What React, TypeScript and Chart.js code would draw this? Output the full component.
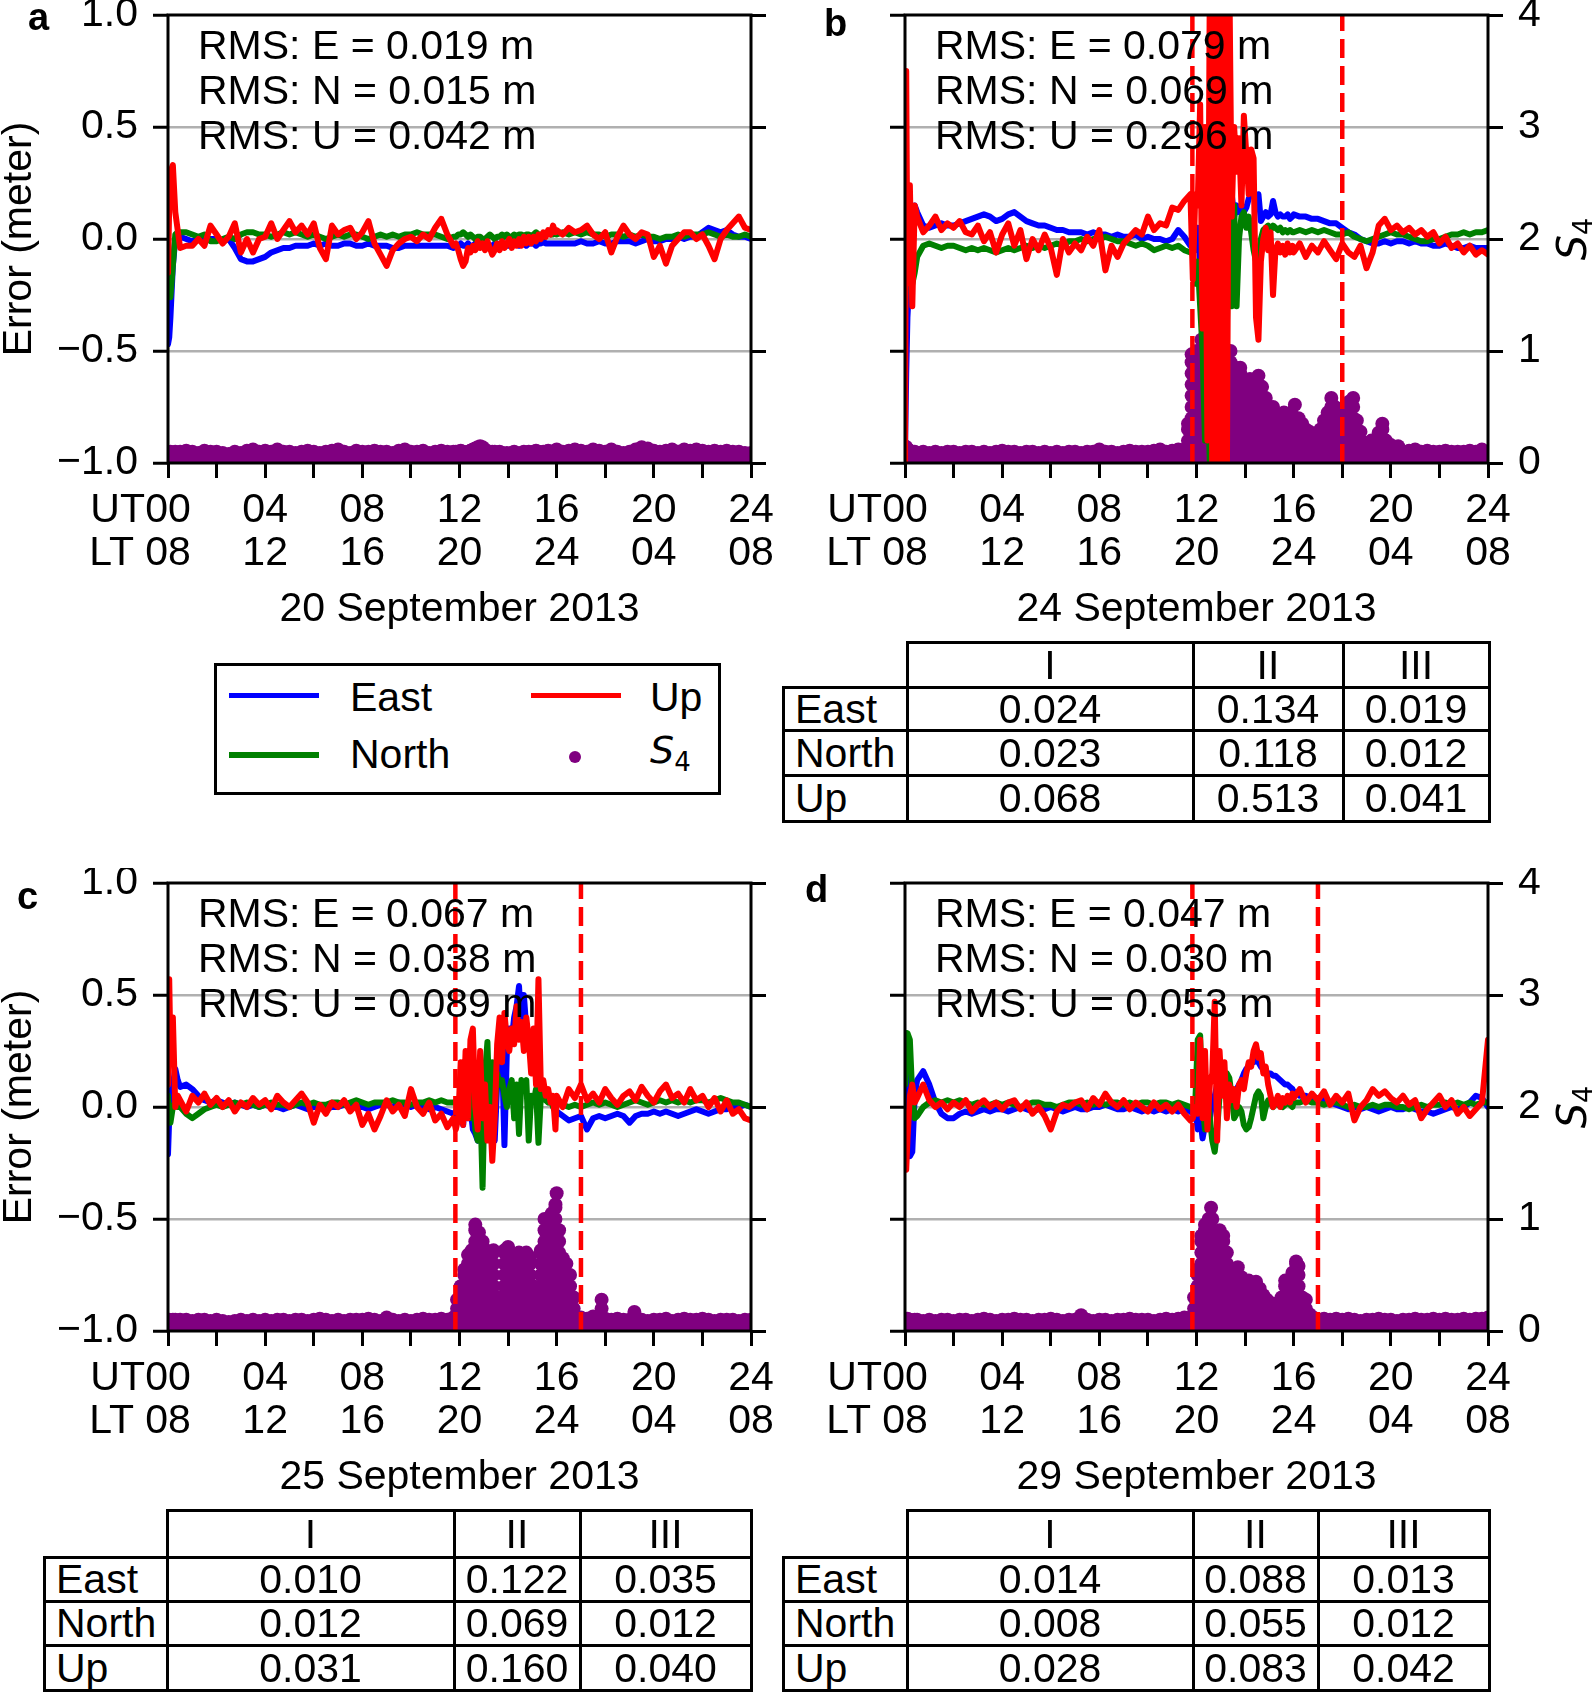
import React, { useEffect, useRef } from "react";
import { Chart, registerables } from "chart.js";

Chart.register(...registerables);

// ---------------- time grid (hours UT) ----------------
// 0, .05, .1, .2, .3, .4 | 0.5 .. 11.75 step .25 | 11.85 .. 15.95 step .1 | 16 .. 24 step .25
const gridStart = [0, 0.05, 0.1, 0.2, 0.3, 0.4];
const gridSegments: [number, number, number][] = [
  [0.5, 46, 0.25],
  [11.85, 42, 0.1],
  [16, 33, 0.25],
];
function buildTimes(): number[] {
  const t = [...gridStart];
  gridSegments.forEach(([start, count, step]) => {
    for (let i = 0; i < count; i++) t.push(Math.round((start + i * step) * 1000) / 1000);
  });
  return t;
}
const TIMES = buildTimes();

// ---------------- axis labels ----------------
const utTickValues = [0, 4, 8, 12, 16, 20, 24];
const utLabels = ["00", "04", "08", "12", "16", "20", "24"];
const ltLabels = ["08", "12", "16", "20", "24", "04", "08"];
const rmsNames = ["E", "N", "U"];
const tableColumns = ["I", "II", "III"];
const tableRows = ["East", "North", "Up"];
const legendLabels = ["East", "North", "Up"];

// ---------------- overall RMS (m) ----------------
const rmsA = [0.019, 0.015, 0.042];
const rmsB = [0.079, 0.069, 0.296];
const rmsC = [0.067, 0.038, 0.089];
const rmsD = [0.047, 0.03, 0.053];

// ---------------- period RMS tables ----------------
const tableB = [
  [0.024, 0.134, 0.019],
  [0.023, 0.118, 0.012],
  [0.068, 0.513, 0.041],
];
const tableC = [
  [0.01, 0.122, 0.035],
  [0.012, 0.069, 0.012],
  [0.031, 0.16, 0.04],
];
const tableD = [
  [0.014, 0.088, 0.013],
  [0.008, 0.055, 0.012],
  [0.028, 0.083, 0.042],
];

// ---------------- period boundaries (h UT) ----------------
const dashesB = [11.83, 18.0];
const dashesC = [11.83, 17.0];
const dashesD = [11.83, 17.0];

// ---------------- panel a: 20 Sep 2013 ----------------
const eastA = [
  -0.47, -0.44, -0.35, -0.12, 0.0, 0.02,
  0.01, 0.0, -0.01, 0.0, -0.01, 0.0, 0.0, -0.01, 0.0, -0.04,
  -0.09, -0.1, -0.1, -0.09, -0.08, -0.06, -0.05, -0.04, -0.04, -0.03, -0.03, -0.03,
  -0.02, -0.03, -0.02, -0.03, -0.03, -0.02, -0.02, -0.03, -0.03, -0.02, -0.03, -0.03,
  -0.03, -0.04, -0.04, -0.03, -0.03, -0.03, -0.03, -0.03, -0.03, -0.03, -0.03, -0.04,
  -0.03, -0.03, -0.02, -0.03, -0.03, -0.02, -0.03, -0.03, -0.02, -0.02,
  -0.03, -0.03, -0.02, -0.02, -0.03, -0.03, -0.02, -0.02, -0.03, -0.02,
  -0.02, -0.03, -0.03, -0.02, -0.02, -0.02, -0.03, -0.02, -0.02, -0.03,
  -0.02, -0.02, -0.02, -0.03, -0.02, -0.02, -0.01, -0.02, -0.02, -0.02,
  -0.02, -0.02,
  -0.02, -0.02, -0.02, -0.02, -0.01, -0.02, -0.02, -0.01, -0.02, -0.02, -0.01, -0.01,
  -0.01, -0.02, -0.01, 0.0, -0.01, -0.01, 0.0, 0.0, 0.01, 0.0, 0.01, 0.01,
  0.03, 0.05, 0.04, 0.03, 0.04, 0.02, 0.01, 0.01, 0.0,
];
const northA = [
  -0.15, -0.22, -0.26, -0.12, 0.02, 0.03,
  0.03, 0.03, 0.02, 0.01, 0.02, -0.01, -0.01, 0.0, 0.01, 0.0,
  0.02, 0.03, 0.03, 0.02, 0.02, 0.01, 0.02, 0.03, 0.02, 0.03, 0.02, 0.01,
  0.02, 0.01, 0.0, 0.01, 0.02, 0.01, 0.02, 0.02, 0.01, 0.0, 0.01, 0.02,
  0.01, 0.02, 0.01, 0.02, 0.02, 0.03, 0.02, 0.02, 0.02, 0.01, 0.0, 0.01,
  0.01, 0.02, 0.02, 0.03, 0.02, 0.01, 0.02, 0.01, 0.0, 0.01,
  0.01, 0.0, 0.0, 0.01, 0.02, 0.01, 0.0, 0.01, 0.01, 0.02,
  0.01, 0.02, 0.01, 0.01, 0.02, 0.01, 0.02, 0.02, 0.01, 0.02,
  0.02, 0.01, 0.02, 0.03, 0.02, 0.02, 0.01, 0.02, 0.03, 0.02,
  0.02, 0.03,
  0.02, 0.03, 0.02, 0.03, 0.02, 0.03, 0.02, 0.02, 0.01, 0.02, 0.02, 0.01,
  0.02, 0.01, 0.02, 0.01, 0.01, 0.0, 0.01, 0.01, 0.02, 0.01, 0.02, 0.02,
  0.02, 0.03, 0.02, 0.01, 0.02, 0.01, 0.01, 0.02, 0.01,
];
const upA = [
  -0.15, 0.15, 0.3, 0.33, 0.12, 0.04,
  -0.04, -0.03, -0.03, 0.0, -0.03, 0.06, 0.02, -0.02, 0.01, 0.07,
  -0.06, 0.0, -0.06, 0.0, 0.01, 0.07, 0.0, 0.04, 0.08, 0.03, 0.06, 0.02,
  0.07, -0.04, -0.09, 0.06, 0.02, 0.04, 0.05, 0.0, 0.03, 0.08, -0.02, -0.07,
  -0.12, -0.05, -0.02, 0.0, 0.01, -0.01, 0.02, 0.0, 0.05, 0.09, 0.02, -0.03,
  -0.02, -0.05, -0.09, -0.12, -0.1, -0.04, -0.06, -0.03, -0.05, -0.01,
  -0.04, -0.02, -0.05, -0.01, -0.04, -0.07, -0.05, -0.02, -0.05, -0.01,
  -0.04, -0.02, 0.0, -0.04, -0.01, -0.03, 0.0, -0.03, 0.01, -0.02,
  0.01, -0.02, 0.01, -0.01, 0.02, 0.0, 0.03, 0.01, 0.04, 0.02,
  0.06, 0.03,
  0.04, 0.02, 0.05, 0.03, 0.04, 0.06, 0.02, 0.0, 0.03, -0.06, 0.01, 0.06,
  0.02, 0.0, 0.03, 0.02, -0.08, -0.03, -0.11, -0.03, 0.0, 0.03, 0.03, 0.0,
  0.02, -0.03, -0.09, 0.0, 0.04, 0.07, 0.1, 0.05, 0.04,
];
const s4TopA = [
  0.1, 0.09, 0.1, 0.09, 0.1, 0.09,
  0.1, 0.11, 0.1, 0.09, 0.11, 0.1, 0.1, 0.09, 0.08, 0.1,
  0.09, 0.11, 0.12, 0.1, 0.11, 0.1, 0.12, 0.1, 0.1, 0.09, 0.1, 0.11,
  0.1, 0.09, 0.1, 0.11, 0.12, 0.1, 0.09, 0.11, 0.1, 0.1, 0.11, 0.1,
  0.1, 0.09, 0.11, 0.12, 0.1, 0.1, 0.11, 0.09, 0.1, 0.11, 0.1, 0.1,
  0.1, 0.1, 0.11, 0.1, 0.09, 0.1, 0.11, 0.12, 0.13, 0.14,
  0.15, 0.14, 0.12, 0.1, 0.09, 0.1, 0.1, 0.09, 0.1, 0.09,
  0.08, 0.09, 0.08, 0.09, 0.1, 0.09, 0.08, 0.09, 0.1, 0.09,
  0.1, 0.09, 0.1, 0.11, 0.1, 0.09, 0.1, 0.1, 0.11, 0.1,
  0.1, 0.11,
  0.12, 0.1, 0.11, 0.12, 0.11, 0.1, 0.12, 0.11, 0.1, 0.12, 0.1, 0.09,
  0.1, 0.12, 0.14, 0.13, 0.11, 0.1, 0.11, 0.12, 0.1, 0.12, 0.11, 0.12,
  0.11, 0.1, 0.11, 0.1, 0.11, 0.1, 0.1, 0.09, 0.09,
];

// ---------------- panel b: 24 Sep 2013 ----------------
const eastB = [
  -0.95, -0.6, -0.35, -0.15, 0.05, 0.15,
  0.12, 0.06, 0.05, 0.06, 0.07, 0.06, 0.06, 0.07, 0.08, 0.09,
  0.1, 0.11, 0.1, 0.08, 0.09, 0.11, 0.12, 0.1, 0.08, 0.07, 0.06, 0.06,
  0.05, 0.04, 0.04, 0.03, 0.03, 0.03, 0.02, 0.03, 0.02, 0.02, 0.01, 0.02,
  0.01, 0.01, 0.02, 0.0, 0.01, 0.0, 0.0, -0.01, 0.0, 0.04, 0.01, -0.03,
  0.0, -0.05, 0.05, -0.1, 0.1, -0.2, 0.0, -0.3, 0.1, -0.2,
  0.1, -0.1, 0.15, 0.0, 0.2, 0.05, 0.2, 0.1, 0.15, 0.12,
  0.15, 0.12, 0.14, 0.18, 0.2, 0.22, 0.16, 0.2, 0.08, 0.1,
  0.12, 0.1, 0.11, 0.17, 0.12, 0.1, 0.11, 0.1, 0.1, 0.11,
  0.09, 0.1,
  0.11, 0.1, 0.1, 0.09, 0.09, 0.08, 0.07, 0.07, 0.05, 0.03, 0.02, 0.0,
  -0.01, -0.02, -0.02, -0.01, -0.02, -0.01, -0.01, -0.02, -0.01, -0.02, -0.02, -0.03,
  -0.03, -0.02, -0.03, -0.04, -0.04, -0.03, -0.04, -0.04, -0.04,
];
const northB = [
  -0.3, -0.1, 0.05, -0.05, -0.2, -0.15,
  -0.08, -0.03, -0.02, -0.03, -0.04, -0.03, -0.03, -0.04, -0.05, -0.04,
  -0.05, -0.04, -0.05, -0.06, -0.05, -0.04, -0.05, -0.04, -0.03, -0.04, -0.03, -0.04,
  -0.03, -0.02, -0.03, -0.01, -0.01, 0.0, -0.01, 0.0, 0.0, 0.01, 0.0, -0.01,
  -0.01, -0.02, -0.03, -0.02, -0.03, -0.05, -0.04, -0.03, -0.04, -0.03, -0.05, -0.06,
  -0.05, -0.2, -0.1, -0.3, -0.5, -0.9, -0.6, -1.0, -0.3, -1.05,
  -0.5, -1.05, -0.2, 0.3, -0.4, 0.2, -0.3, 0.15, -0.3, 0.0,
  0.1, 0.12, 0.05, 0.1, 0.03, -0.05, -0.1, -0.08, 0.0, 0.04,
  0.05, 0.06, 0.04, 0.06, 0.05, 0.04, 0.05, 0.03, 0.04, 0.03,
  0.04, 0.03,
  0.03, 0.04, 0.03, 0.04, 0.03, 0.04, 0.03, 0.02, 0.02, 0.03, 0.01, 0.0,
  -0.01, 0.0, 0.01, 0.02, 0.03, 0.02, 0.02, 0.01, 0.0, -0.01, -0.01, 0.0,
  0.0, 0.01, 0.02, 0.02, 0.03, 0.02, 0.03, 0.03, 0.04,
];
const upB = [
  -1.05, 0.75, -0.2, 0.24, -0.3, 0.15,
  0.1, 0.03, 0.06, 0.1, 0.04, 0.07, 0.05, 0.08, 0.03, 0.02,
  0.06, -0.01, 0.03, -0.06, 0.02, 0.07, -0.03, 0.04, -0.09, 0.0, -0.05, 0.02,
  -0.04, -0.16, 0.0, -0.06, -0.02, -0.05, 0.01, -0.03, 0.04, -0.14, -0.03, -0.08,
  -0.02, 0.01, 0.04, 0.02, 0.1, 0.04, 0.07, 0.06, 0.14, 0.13, 0.17, 0.2,
  -0.18, 0.2, 0.15, 0.6, -0.4, 0.5, -0.9, 1.2, -1.1, 1.2,
  -1.1, 1.2, -1.1, 1.2, -1.1, 1.2, 0.1, 0.5, 0.3, 0.45,
  0.15, 0.55, 0.38, 0.2, 0.4, 0.36, -0.35, -0.45, -0.1, 0.0,
  0.05, -0.05, 0.03, -0.25, -0.05, -0.02, -0.06, -0.03, -0.07, -0.02,
  -0.06, -0.03,
  -0.06, -0.02, -0.08, -0.03, -0.06, -0.01, -0.05, -0.09, -0.02, -0.06, -0.08, -0.03,
  -0.13, -0.06, 0.06, 0.09, 0.04, 0.06, 0.03, 0.05, 0.02, 0.04, 0.01, 0.03,
  -0.02, 0.01, -0.04, -0.02, -0.06, -0.03, -0.07, -0.05, -0.07,
];
const s4TopB = [
  0.15, 0.14, 0.12, 0.11, 0.1, 0.1,
  0.09, 0.1, 0.09, 0.1, 0.09, 0.1, 0.1, 0.09, 0.1, 0.1,
  0.09, 0.1, 0.09, 0.1, 0.11, 0.1, 0.1, 0.09, 0.1, 0.1, 0.09, 0.1,
  0.09, 0.1, 0.09, 0.1, 0.1, 0.09, 0.1, 0.1, 0.12, 0.1, 0.1, 0.09,
  0.1, 0.11, 0.1, 0.1, 0.1, 0.11, 0.12, 0.1, 0.11, 0.12, 0.12, 0.13,
  0.13, 0.12, 0.14, 0.13, 0.12, 0.14, 0.13, 0.12, 0.14, 0.13,
  0.12, 0.14, 0.13, 0.12, 0.14, 0.13, 0.12, 0.14, 0.13, 0.12,
  0.14, 0.13, 0.12, 0.14, 0.13, 0.12, 0.14, 0.13, 0.12, 0.14,
  0.13, 0.12, 0.14, 0.13, 0.12, 0.14, 0.13, 0.12, 0.14, 0.13,
  0.12, 0.14,
  0.13, 0.14, 0.12, 0.13, 0.12, 0.14, 0.13, 0.12, 0.14, 0.13, 0.14, 0.13,
  0.14, 0.12, 0.14, 0.13, 0.12, 0.11, 0.1, 0.11, 0.12, 0.1, 0.11, 0.1,
  0.1, 0.11, 0.1, 0.1, 0.1, 0.11, 0.1, 0.12, 0.1,
];
const s4BurstB: [number, number[]][] = [
  [11.65, [0.2, 0.3, 0.35]],
  [11.8, [0.2, 0.3, 0.4, 0.5, 0.6, 0.7, 0.8, 0.9, 0.97]],
  [12.0, [0.2, 0.3, 0.4, 0.5, 0.6, 0.7, 0.8, 0.9, 1.0]],
  [12.2, [0.2, 0.3, 0.4, 0.5, 0.6, 0.7, 0.8, 0.9, 1.0, 1.1]],
  [12.4, [0.2, 0.3, 0.4, 0.5, 0.6, 0.7, 0.8, 0.9, 1.0, 1.08]],
  [12.6, [0.2, 0.3, 0.4, 0.5, 0.6, 0.7, 0.8, 0.9, 1.0]],
  [12.8, [0.2, 0.3, 0.4, 0.5, 0.6, 0.7, 0.8, 0.9, 1.0]],
  [13.0, [0.2, 0.3, 0.4, 0.5, 0.6, 0.7, 0.8, 0.9, 1.0, 1.1]],
  [13.2, [0.2, 0.3, 0.4, 0.5, 0.6, 0.7, 0.8, 0.9, 1.0]],
  [13.4, [0.2, 0.3, 0.4, 0.5, 0.6, 0.7, 0.8, 0.9, 1.0]],
  [13.6, [0.2, 0.3, 0.4, 0.5, 0.6, 0.7, 0.8, 0.85]],
  [13.8, [0.2, 0.3, 0.4, 0.5, 0.6, 0.7, 0.8, 0.85]],
  [14.0, [0.2, 0.3, 0.4, 0.5, 0.6, 0.7]],
  [14.2, [0.2, 0.3, 0.4, 0.5, 0.6, 0.7, 0.75]],
  [14.4, [0.2, 0.3, 0.4, 0.5, 0.6, 0.65]],
  [14.55, [0.2, 0.3, 0.4, 0.5, 0.6, 0.7, 0.78]],
  [14.7, [0.2, 0.3, 0.4, 0.5, 0.6, 0.68]],
  [14.85, [0.2, 0.3, 0.4, 0.5, 0.58]],
  [15.0, [0.2, 0.3, 0.4, 0.45]],
  [15.15, [0.2, 0.3, 0.4, 0.5]],
  [15.3, [0.2, 0.3, 0.4]],
  [15.45, [0.2, 0.3, 0.38]],
  [15.6, [0.2, 0.3, 0.4, 0.45]],
  [15.75, [0.2, 0.3, 0.38]],
  [15.9, [0.2, 0.3, 0.4, 0.45]],
  [16.05, [0.2, 0.3, 0.4, 0.52]],
  [16.2, [0.2, 0.3, 0.4]],
  [16.35, [0.2, 0.3, 0.35]],
  [16.5, [0.2, 0.3]],
  [16.65, [0.2, 0.28]],
  [16.8, [0.2, 0.25]],
  [16.95, [0.18]],
  [17.1, [0.2, 0.3]],
  [17.25, [0.2, 0.3, 0.38]],
  [17.4, [0.2, 0.3, 0.4, 0.45]],
  [17.55, [0.2, 0.3, 0.4, 0.5, 0.58]],
  [17.7, [0.2, 0.3, 0.4, 0.5]],
  [17.85, [0.2, 0.3, 0.38]],
  [18.0, [0.2, 0.3, 0.4, 0.45]],
  [18.15, [0.2, 0.3, 0.4, 0.5]],
  [18.3, [0.2, 0.3, 0.4, 0.5, 0.55]],
  [18.45, [0.2, 0.3, 0.4, 0.5, 0.58]],
  [18.6, [0.2, 0.3, 0.38]],
  [18.75, [0.2, 0.28]],
  [18.9, [0.18]],
  [19.05, [0.17]],
  [19.2, [0.18, 0.2]],
  [19.5, [0.2, 0.27]],
  [19.65, [0.2, 0.3, 0.35]],
  [19.8, [0.2]],
  [20.0, [0.16]],
  [20.3, [0.15]],
];

// ---------------- panel c: 25 Sep 2013 ----------------
const eastC = [
  -0.21, -0.05, 0.05, 0.1, 0.17, 0.12,
  0.09, 0.1, 0.08, 0.05, 0.03, 0.02, 0.03, 0.02, 0.01, 0.02,
  0.01, 0.0, 0.01, 0.0, 0.01, 0.0, 0.0, -0.01, 0.0, 0.01, 0.0, -0.01,
  0.0, 0.0, -0.01, 0.0, 0.0, 0.01, 0.0, 0.0, 0.0, -0.01, 0.0, 0.01,
  0.01, 0.0, 0.02, 0.01, 0.0, 0.01, 0.0, -0.01, 0.0, -0.01, -0.02, -0.03,
  -0.02, -0.05, 0.0, -0.08, 0.05, -0.05, 0.0, -0.1, -0.12, -0.15,
  0.05, -0.05, 0.1, 0.0, 0.05, -0.05, -0.15, 0.1, 0.2, 0.25,
  -0.17, 0.25, 0.35, 0.3, 0.4, 0.45, 0.54, 0.35, 0.5, 0.35,
  0.3, 0.25, 0.2, 0.15, 0.1, 0.1, 0.08, 0.06, 0.05, 0.03,
  0.02, 0.0,
  -0.02, -0.04, -0.06, -0.05, -0.04, -0.1, -0.05, -0.04, -0.05, -0.04, -0.03, -0.04,
  -0.07, -0.04, -0.03, -0.03, -0.02, -0.03, -0.02, -0.03, -0.04, -0.03, -0.02, -0.01,
  -0.02, -0.03, -0.02, -0.01, -0.01, 0.0, 0.0, 0.01, 0.0,
];
const northC = [
  0.05, -0.04, -0.07, 0.0, 0.02, 0.0,
  0.0, -0.03, -0.05, -0.03, -0.01, 0.0, 0.01, 0.0, 0.01, 0.02,
  0.01, 0.02, 0.01, 0.0, 0.01, 0.02, 0.01, 0.01, 0.0, 0.01, 0.02, 0.01,
  0.02, 0.01, 0.01, 0.02, 0.02, 0.01, 0.02, 0.03, 0.02, 0.01, 0.02, 0.02,
  0.02, 0.03, 0.02, 0.02, 0.01, 0.02, 0.02, 0.03, 0.02, 0.03, 0.02, 0.02,
  0.02, 0.0, 0.05, -0.05, 0.0, 0.05, -0.05, 0.1, -0.1, -0.15,
  0.05, -0.36, 0.15, 0.29, -0.05, 0.2, 0.0, 0.15, 0.1, 0.12,
  0.05, 0.0, 0.08, 0.12, -0.05, 0.1, -0.12, 0.12, 0.1, 0.12,
  -0.15, 0.05, 0.02, 0.08, -0.16, 0.05, 0.1, 0.03, 0.02, 0.03,
  0.0, -0.02,
  0.02, 0.01, 0.0, 0.01, 0.0, 0.01, 0.02, 0.01, 0.02, 0.01, 0.0, 0.01,
  0.02, 0.03, 0.02, 0.01, 0.02, 0.03, 0.02, 0.03, 0.02, 0.03, 0.02, 0.03,
  0.03, 0.02, 0.03, 0.04, 0.03, 0.02, 0.02, 0.01, 0.0,
];
const upC = [
  0.1, 0.57, 0.25, 0.4, 0.0, 0.05,
  0.03, -0.02, 0.05, 0.02, 0.06, 0.01, 0.04, 0.0, 0.03, -0.02,
  0.02, 0.0, 0.04, 0.01, 0.03, -0.01, 0.05, 0.02, 0.0, 0.03, 0.06, 0.02,
  -0.07, 0.01, -0.03, 0.02, 0.0, 0.03, -0.02, 0.01, -0.08, -0.03, -0.1, -0.04,
  0.03, -0.02, 0.01, -0.04, 0.08, 0.0, -0.03, 0.02, -0.06, -0.03, -0.09, -0.05,
  -0.1, -0.05, 0.2, -0.08, 0.25, -0.05, 0.3, 0.35, 0.0, -0.1,
  0.25, -0.05, 0.1, -0.15, 0.0, -0.24, -0.05, 0.28, 0.4, 0.2,
  0.42, 0.3, 0.25, 0.35, 0.28, 0.45, 0.3, 0.38, 0.25, 0.4,
  0.3, 0.15, 0.35, 0.1, 0.57, 0.08, 0.12, 0.05, 0.08, 0.02,
  0.05, -0.1,
  0.05, 0.0, 0.08, 0.04, 0.1, 0.03, 0.06, 0.02, 0.08, 0.04, 0.01, 0.05,
  0.07, 0.03, 0.09, 0.05, 0.02, 0.07, 0.1, 0.04, 0.06, 0.02, 0.08, 0.03,
  0.05, 0.0, 0.04, -0.02, 0.03, -0.03, -0.01, -0.05, -0.06,
];
const s4TopC = [
  0.1, 0.1, 0.09, 0.1, 0.1, 0.09,
  0.1, 0.1, 0.09, 0.1, 0.1, 0.09, 0.1, 0.09, 0.08, 0.09,
  0.1, 0.09, 0.1, 0.09, 0.1, 0.09, 0.1, 0.1, 0.09, 0.1, 0.1, 0.09,
  0.1, 0.11, 0.1, 0.09, 0.1, 0.09, 0.1, 0.1, 0.1, 0.11, 0.1, 0.09,
  0.12, 0.1, 0.09, 0.1, 0.09, 0.1, 0.11, 0.1, 0.1, 0.11, 0.1, 0.12,
  0.13, 0.12, 0.14, 0.13, 0.12, 0.14, 0.13, 0.12, 0.14, 0.13,
  0.12, 0.14, 0.13, 0.12, 0.14, 0.13, 0.12, 0.14, 0.13, 0.12,
  0.14, 0.13, 0.12, 0.14, 0.13, 0.12, 0.14, 0.13, 0.12, 0.14,
  0.13, 0.12, 0.14, 0.13, 0.12, 0.14, 0.13, 0.12, 0.14, 0.13,
  0.12, 0.14,
  0.13, 0.14, 0.12, 0.13, 0.12, 0.11, 0.13, 0.12, 0.11, 0.1, 0.11, 0.1,
  0.1, 0.12, 0.1, 0.09, 0.1, 0.1, 0.11, 0.09, 0.1, 0.11, 0.1, 0.1,
  0.11, 0.1, 0.09, 0.1, 0.1, 0.1, 0.09, 0.1, 0.1,
];
const s4BurstC: [number, number[]][] = [
  [11.9, [0.2, 0.28]],
  [12.05, [0.2, 0.3, 0.4]],
  [12.2, [0.2, 0.3, 0.4, 0.5, 0.55]],
  [12.35, [0.2, 0.3, 0.4, 0.5, 0.6, 0.68]],
  [12.5, [0.2, 0.3, 0.4, 0.5, 0.6, 0.7, 0.72]],
  [12.65, [0.2, 0.3, 0.4, 0.5, 0.6, 0.7, 0.8, 0.9, 0.95]],
  [12.8, [0.2, 0.3, 0.4, 0.5, 0.6, 0.7, 0.8, 0.88]],
  [12.95, [0.2, 0.3, 0.4, 0.5, 0.6, 0.7, 0.8]],
  [13.1, [0.2, 0.3, 0.4, 0.5, 0.6, 0.7, 0.72]],
  [13.25, [0.2, 0.3, 0.4, 0.5, 0.6, 0.7]],
  [13.4, [0.2, 0.3, 0.4, 0.5, 0.6, 0.7, 0.72]],
  [13.55, [0.2, 0.3]],
  [13.7, [0.18, 0.25]],
  [13.85, [0.2, 0.3, 0.4, 0.5, 0.6, 0.7, 0.72]],
  [14.0, [0.2, 0.3, 0.4, 0.5, 0.6, 0.7, 0.75]],
  [14.15, [0.2, 0.3, 0.4, 0.5, 0.6, 0.65]],
  [14.3, [0.2, 0.3, 0.4, 0.5]],
  [14.45, [0.2, 0.3, 0.4, 0.5, 0.6, 0.7]],
  [14.6, [0.2, 0.3, 0.4, 0.5, 0.6, 0.68]],
  [14.75, [0.2, 0.3, 0.4, 0.5, 0.6, 0.7]],
  [14.9, [0.2, 0.3, 0.4, 0.5, 0.6, 0.66]],
  [15.05, [0.2, 0.3, 0.4]],
  [15.2, [0.2, 0.3]],
  [15.35, [0.2, 0.3, 0.4, 0.5, 0.6, 0.7, 0.72]],
  [15.5, [0.2, 0.3, 0.4, 0.5, 0.6, 0.7, 0.8, 0.9, 1.0]],
  [15.65, [0.2, 0.3, 0.4, 0.5, 0.6, 0.7, 0.8, 0.84]],
  [15.8, [0.2, 0.3, 0.4, 0.5, 0.6, 0.7, 0.8, 0.9, 1.0, 1.05]],
  [15.95, [0.2, 0.3, 0.4, 0.5, 0.6, 0.7, 0.8, 0.9, 1.0, 1.1, 1.13]],
  [16.0, [1.23]],
  [16.1, [0.2, 0.3, 0.4, 0.5, 0.6, 0.7, 0.8, 0.9]],
  [16.25, [0.2, 0.3, 0.4, 0.5, 0.6, 0.65]],
  [16.4, [0.2, 0.3, 0.4, 0.5, 0.6]],
  [16.55, [0.2, 0.3, 0.4, 0.5]],
  [16.7, [0.2, 0.3]],
  [17.85, [0.2, 0.28]],
  [19.2, [0.17]],
];

// ---------------- panel d: 29 Sep 2013 ----------------
const eastD = [
  0.33, 0.15, -0.05, -0.22, -0.2, 0.05,
  0.12, 0.16, 0.1, 0.02, -0.03, -0.05, -0.05, -0.03, -0.02, -0.03,
  -0.02, -0.01, -0.02, -0.01, -0.01, -0.02, -0.01, 0.0, -0.01, -0.02, -0.01, -0.01,
  0.0, -0.01, -0.02, -0.01, 0.0, -0.01, -0.01, 0.0, 0.0, 0.01, 0.0, -0.01,
  -0.01, 0.0, -0.01, -0.02, -0.01, -0.02, -0.01, -0.02, -0.01, -0.02, -0.01, -0.02,
  -0.03, -0.02, -0.1, -0.05, -0.14, -0.08, 0.0, -0.05, 0.02, 0.05,
  0.1, 0.08, 0.12, 0.1, 0.08, 0.05, 0.02, 0.05, 0.08, 0.1,
  0.12, 0.15, 0.17, 0.18, 0.2, 0.2, 0.21, 0.2, 0.18, 0.17,
  0.16, 0.15, 0.15, 0.14, 0.14, 0.13, 0.12, 0.11, 0.1, 0.1,
  0.09, 0.08,
  0.07, 0.05, 0.05, 0.04, 0.04, 0.03, 0.02, 0.01, 0.0, -0.01, 0.0, -0.01,
  0.0, -0.01, -0.02, -0.01, 0.0, -0.01, -0.01, 0.0, -0.01, -0.02, -0.02, -0.03,
  -0.02, -0.01, 0.0, -0.01, 0.0, 0.02, 0.05, 0.04, 0.0,
];
const northD = [
  0.1, 0.3, 0.33, 0.3, 0.05, -0.05,
  -0.04, 0.0, 0.02, 0.03, 0.02, 0.03, 0.02, 0.03, 0.02, 0.01,
  0.02, 0.01, 0.01, 0.02, 0.01, 0.02, 0.01, 0.0, 0.01, 0.02, 0.02, 0.01,
  0.01, 0.0, 0.01, 0.02, 0.02, 0.01, 0.02, 0.01, 0.02, 0.01, 0.02, 0.02,
  0.01, 0.02, 0.01, 0.02, 0.02, 0.01, 0.02, 0.02, 0.01, 0.02, 0.01, 0.0,
  0.0, 0.02, 0.3, 0.32, 0.0, -0.1, 0.05, -0.05, -0.15, -0.2,
  -0.1, 0.05, 0.1, 0.12, 0.15, 0.13, 0.05, -0.05, -0.03, 0.0,
  -0.02, -0.08, -0.1, -0.09, -0.05, 0.0, 0.05, 0.07, 0.05, -0.05,
  0.0, 0.03, 0.02, 0.0, 0.02, 0.01, 0.02, 0.0, 0.01, 0.02,
  0.01, 0.0,
  0.02, 0.02, 0.03, 0.02, 0.02, 0.01, 0.02, 0.02, 0.01, 0.0, 0.01, 0.0,
  0.0, 0.01, 0.0, 0.01, 0.01, 0.0, 0.0, -0.01, 0.0, 0.01, 0.0, 0.01,
  0.01, 0.02, 0.01, 0.02, 0.01, 0.02, 0.01, 0.02, 0.02,
];
const upD = [
  -0.1, -0.28, -0.15, 0.05, 0.1, 0.02,
  0.04, 0.1, 0.03, 0.0, 0.02, -0.01, 0.02, 0.0, 0.03, -0.02,
  0.01, 0.03, 0.0, 0.02, -0.01, 0.02, 0.03, -0.01, 0.02, -0.03, 0.0, -0.04,
  -0.1, -0.02, 0.01, 0.0, 0.02, 0.03, -0.01, 0.04, 0.01, 0.06, 0.02, 0.0,
  0.03, -0.01, 0.02, 0.0, -0.02, 0.02, -0.01, 0.01, -0.02, 0.01, -0.03, -0.06,
  -0.05, 0.0, -0.03, 0.3, -0.05, 0.25, -0.1, 0.1, 0.15, 0.47,
  -0.15, 0.25, 0.05, 0.2, -0.05, 0.1, 0.03, 0.08, 0.0, 0.1,
  0.12, 0.08, 0.15, 0.2, 0.18, 0.25, 0.28, 0.22, 0.24, 0.15,
  0.18, 0.1, 0.05, 0.0, 0.02, 0.05, 0.0, 0.04, 0.02, 0.05,
  0.02, 0.06,
  0.04, 0.08, 0.02, 0.06, 0.03, 0.07, 0.01, 0.05, 0.02, 0.06, -0.06, 0.0,
  0.03, 0.08, 0.05, 0.07, 0.04, 0.02, 0.05, 0.01, 0.03, -0.05, -0.01, 0.02,
  0.05, 0.0, 0.03, -0.03, 0.0, -0.04, -0.01, 0.02, 0.3,
];
const s4TopD = [
  0.1, 0.1, 0.11, 0.1, 0.09, 0.1,
  0.1, 0.09, 0.1, 0.09, 0.1, 0.1, 0.09, 0.1, 0.1, 0.09,
  0.1, 0.11, 0.1, 0.09, 0.1, 0.1, 0.11, 0.1, 0.1, 0.09, 0.1, 0.1,
  0.11, 0.1, 0.09, 0.1, 0.1, 0.14, 0.1, 0.09, 0.1, 0.1, 0.09, 0.1,
  0.1, 0.11, 0.1, 0.1, 0.1, 0.09, 0.1, 0.11, 0.1, 0.11, 0.12, 0.12,
  0.13, 0.12, 0.14, 0.13, 0.12, 0.14, 0.13, 0.12, 0.14, 0.13,
  0.12, 0.14, 0.13, 0.12, 0.14, 0.13, 0.12, 0.14, 0.13, 0.12,
  0.14, 0.13, 0.12, 0.14, 0.13, 0.12, 0.14, 0.13, 0.12, 0.14,
  0.13, 0.12, 0.14, 0.13, 0.12, 0.14, 0.13, 0.12, 0.14, 0.13,
  0.12, 0.14,
  0.13, 0.14, 0.12, 0.13, 0.1, 0.11, 0.1, 0.11, 0.1, 0.11, 0.1, 0.09,
  0.1, 0.1, 0.11, 0.1, 0.1, 0.09, 0.1, 0.1, 0.11, 0.1, 0.1, 0.11,
  0.1, 0.11, 0.1, 0.1, 0.11, 0.1, 0.11, 0.11, 0.12,
];
const s4BurstD: [number, number[]][] = [
  [11.9, [0.2, 0.3]],
  [12.05, [0.2, 0.3, 0.4, 0.5, 0.55]],
  [12.2, [0.2, 0.3, 0.4, 0.5, 0.6, 0.7, 0.8, 0.85]],
  [12.35, [0.2, 0.3, 0.4, 0.5, 0.6, 0.7, 0.8, 0.9, 0.95]],
  [12.5, [0.2, 0.3, 0.4, 0.5, 0.6, 0.7, 0.8, 0.9, 1.0]],
  [12.6, [1.1]],
  [12.65, [0.2, 0.3, 0.4, 0.5, 0.6, 0.7, 0.8, 0.9, 1.0]],
  [12.8, [0.2, 0.3, 0.4, 0.5, 0.6, 0.7, 0.8, 0.88]],
  [12.95, [0.2, 0.3, 0.4, 0.5, 0.6, 0.7, 0.8, 0.9]],
  [13.1, [0.2, 0.3, 0.4, 0.5, 0.6, 0.7, 0.8, 0.85]],
  [13.25, [0.2, 0.3, 0.4, 0.5, 0.6, 0.7]],
  [13.4, [0.2, 0.3, 0.4, 0.5, 0.52]],
  [13.55, [0.2, 0.3, 0.4, 0.5]],
  [13.7, [0.2, 0.3, 0.4, 0.5, 0.57]],
  [13.85, [0.2, 0.3, 0.4, 0.48]],
  [14.0, [0.2, 0.3, 0.4, 0.45]],
  [14.15, [0.2, 0.3, 0.4, 0.45]],
  [14.3, [0.2, 0.3, 0.4, 0.42]],
  [14.45, [0.2, 0.3, 0.4, 0.44]],
  [14.6, [0.2, 0.3, 0.38]],
  [14.75, [0.2, 0.3, 0.32]],
  [14.9, [0.2, 0.28]],
  [15.05, [0.2, 0.25]],
  [15.2, [0.2, 0.24]],
  [15.35, [0.2, 0.25]],
  [15.5, [0.2, 0.3]],
  [15.65, [0.2, 0.3, 0.4, 0.45]],
  [15.8, [0.2, 0.3, 0.4, 0.42]],
  [15.95, [0.2, 0.3, 0.4, 0.5, 0.52]],
  [16.1, [0.2, 0.3, 0.4, 0.5, 0.6, 0.62]],
  [16.2, [0.2, 0.3, 0.4, 0.5, 0.58]],
  [16.35, [0.2, 0.3]],
  [16.5, [0.2, 0.28]],
  [16.65, [0.15]],
];

// lower envelope of the S4 readings (all days)
const s4Floor = [
  0.04, 0.05, 0.04, 0.03, 0.05, 0.04,
  0.04, 0.05, 0.03, 0.04, 0.05, 0.04, 0.04, 0.03, 0.05, 0.04,
  0.05, 0.04, 0.03, 0.04, 0.05, 0.04, 0.04, 0.05, 0.03, 0.04, 0.04, 0.05,
  0.04, 0.03, 0.05, 0.04, 0.04, 0.05, 0.04, 0.03, 0.04, 0.05, 0.04, 0.04,
  0.03, 0.04, 0.05, 0.04, 0.04, 0.03, 0.05, 0.04, 0.04, 0.05, 0.04, 0.03,
  0.04, 0.05, 0.04, 0.03, 0.04, 0.05, 0.04, 0.04, 0.03, 0.05,
  0.04, 0.04, 0.05, 0.03, 0.04, 0.05, 0.04, 0.04, 0.03, 0.04,
  0.05, 0.04, 0.04, 0.03, 0.05, 0.04, 0.04, 0.05, 0.03, 0.04,
  0.04, 0.05, 0.04, 0.03, 0.04, 0.04, 0.05, 0.04, 0.03, 0.04,
  0.05, 0.04,
  0.04, 0.03, 0.05, 0.04, 0.04, 0.05, 0.03, 0.04, 0.04, 0.05, 0.04, 0.03,
  0.04, 0.05, 0.04, 0.04, 0.03, 0.05, 0.04, 0.04, 0.05, 0.03, 0.04, 0.04,
  0.05, 0.04, 0.03, 0.04, 0.05, 0.04, 0.04, 0.03, 0.04,
];

// ---------------- style ----------------
const FONT = '"Liberation Sans", Arial, Helvetica, sans-serif';
const MATH_FONT = '"DejaVu Sans", "Liberation Sans", sans-serif';
const FS = 41;
const BLUE = "#0000ff";
const GREEN = "#008000";
const RED = "#ff0000";
const PURPLE = "#800080";
const GRID = "#b0b0b0";
const LINE_W = 6;
const DOT_R = 7;
const CANVAS_H = 650;
const PLOT_TOP = 15;
const PLOT_BOTTOM = 463;
const ROW1_Y = 522;
const ROW2_Y = 565;
const TITLE_Y = 621;
const RMS_Y = [59, 104, 149];

interface PanelCfg {
  key: string;
  left: number;
  top: number;
  width: number;
  axisLeft: number;
  axisRight: number;
  letter: string;
  letterX: number;
  letterY: number;
  date: string;
  rms: number[];
  east: number[];
  north: number[];
  up: number[];
  s4Top: number[];
  burst: [number, number[]][];
  dashes: number[];
  side: "left" | "right";
}

const panels: PanelCfg[] = [
  { key: "a", left: 0, top: 0, width: 800, axisLeft: 168, axisRight: 49, letter: "a", letterX: 28, letterY: 30,
    date: "20 September 2013", rms: rmsA, east: eastA, north: northA, up: upA, s4Top: s4TopA, burst: [], dashes: [], side: "left" },
  { key: "b", left: 800, top: 0, width: 794, axisLeft: 105, axisRight: 106, letter: "b", letterX: 24, letterY: 36,
    date: "24 September 2013", rms: rmsB, east: eastB, north: northB, up: upB, s4Top: s4TopB, burst: s4BurstB, dashes: dashesB, side: "right" },
  { key: "c", left: 0, top: 868, width: 800, axisLeft: 168, axisRight: 49, letter: "c", letterX: 17, letterY: 41,
    date: "25 September 2013", rms: rmsC, east: eastC, north: northC, up: upC, s4Top: s4TopC, burst: s4BurstC, dashes: dashesC, side: "left" },
  { key: "d", left: 800, top: 868, width: 794, axisLeft: 105, axisRight: 106, letter: "d", letterX: 5, letterY: 34,
    date: "29 September 2013", rms: rmsD, east: eastD, north: northD, up: upD, s4Top: s4TopD, burst: s4BurstD, dashes: dashesD, side: "right" },
];

function toPoints(vals: number[]) {
  const n = Math.min(vals.length, TIMES.length);
  const pts: { x: number; y: number }[] = [];
  for (let i = 0; i < n; i++) pts.push({ x: TIMES[i], y: vals[i] });
  return pts;
}
function burstPoints(cols: [number, number[]][]) {
  const pts: { x: number; y: number }[] = [];
  cols.forEach(([t, vs]) => vs.forEach((v) => pts.push({ x: t, y: v })));
  return pts;
}
function fmtErr(v: number) {
  const s = Math.abs(v).toFixed(1);
  return v < -1e-9 ? "\u2212" + s : s;
}

function makeTextPlugin(p: PanelCfg) {
  return {
    id: "panelText" + p.key,
    afterDraw(chart: any) {
      const ctx = chart.ctx as CanvasRenderingContext2D;
      const a = chart.chartArea;
      const xs = chart.scales.x;
      ctx.save();
      // frame
      ctx.strokeStyle = "#000";
      ctx.lineWidth = 3;
      ctx.strokeRect(a.left, a.top, a.right - a.left, a.bottom - a.top);
      ctx.fillStyle = "#000";
      ctx.textBaseline = "alphabetic";
      ctx.font = `${FS}px ${FONT}`;
      // x tick labels (UT / LT)
      ctx.textAlign = "center";
      utTickValues.forEach((v, i) => {
        const px = xs.getPixelForValue(v);
        ctx.fillText(utLabels[i], px, ROW1_Y);
        ctx.fillText(ltLabels[i], px, ROW2_Y);
      });
      ctx.textAlign = "right";
      ctx.fillText("UT", a.left - 23, ROW1_Y);
      ctx.fillText("LT", a.left - 34, ROW2_Y);
      // date
      ctx.textAlign = "center";
      ctx.fillText(p.date, (a.left + a.right) / 2, TITLE_Y);
      // RMS annotation
      ctx.textAlign = "left";
      rmsNames.forEach((n, i) => {
        ctx.fillText(`RMS: ${n} = ${p.rms[i].toFixed(3)} m`, a.left + 30, RMS_Y[i]);
      });
      // panel letter
      ctx.font = `bold 38px ${FONT}`;
      ctx.fillText(p.letter, p.letterX, p.letterY);
      // axis titles
      const cy = (a.top + a.bottom) / 2;
      if (p.side === "left") {
        ctx.save();
        ctx.translate(19.5, cy);
        ctx.rotate(-Math.PI / 2);
        ctx.font = `${FS}px ${FONT}`;
        ctx.textAlign = "center";
        ctx.textBaseline = "middle";
        ctx.fillText("Error (meter)", 0, 0);
        ctx.restore();
      } else {
        ctx.save();
        ctx.font = `italic 40px ${MATH_FONT}`;
        const wS = ctx.measureText("S").width;
        ctx.font = `27px ${MATH_FONT}`;
        const w4 = ctx.measureText("4").width;
        const total = wS + w4;
        ctx.translate(a.right + 98, cy + total / 2);
        ctx.rotate(-Math.PI / 2);
        ctx.textAlign = "left";
        ctx.textBaseline = "alphabetic";
        ctx.font = `italic 40px ${MATH_FONT}`;
        ctx.fillText("S", 0, 0);
        ctx.font = `27px ${MATH_FONT}`;
        ctx.fillText("4", wS, 6);
        ctx.restore();
      }
      ctx.restore();
    },
  };
}

function buildConfig(p: PanelCfg): any {
  const line = (label: string, vals: number[], color: string, order: number) => ({
    type: "line",
    label,
    data: toPoints(vals),
    borderColor: color,
    backgroundColor: color,
    borderWidth: LINE_W,
    borderJoinStyle: "round",
    borderCapStyle: "round",
    pointRadius: 0,
    pointHoverRadius: 0,
    tension: 0,
    fill: false,
    order,
    yAxisID: "y",
    clip: 0,
  });
  const dots = (label: string, pts: { x: number; y: number }[]) => ({
    type: "line",
    label,
    data: pts,
    showLine: false,
    pointRadius: DOT_R,
    pointHoverRadius: DOT_R,
    pointBorderWidth: 0,
    pointBackgroundColor: PURPLE,
    borderColor: PURPLE,
    backgroundColor: PURPLE,
    order: 5,
    yAxisID: "y2",
    clip: 0,
  });
  const dashSets = p.dashes.map((t, i) => ({
    type: "line",
    label: "period" + i,
    data: [
      { x: t, y: -1 },
      { x: t, y: 1 },
    ],
    borderColor: RED,
    borderWidth: 4.5,
    borderDash: [19, 8],
    pointRadius: 0,
    pointHoverRadius: 0,
    order: 0,
    yAxisID: "y",
    clip: 0,
  }));
  const tickFont = { family: FONT, size: FS };
  return {
    type: "line",
    data: {
      datasets: [
        ...dashSets,
        line("Up", p.up, RED, 1),
        line("North", p.north, GREEN, 2),
        line("East", p.east, BLUE, 3),
        dots("S4", toPoints(p.s4Top)),
        dots("S4 low", toPoints(s4Floor)),
        dots("S4 burst", burstPoints(p.burst)),
      ],
    },
    options: {
      responsive: false,
      maintainAspectRatio: false,
      animation: false,
      devicePixelRatio: 1,
      events: [],
      layout: { padding: { top: PLOT_TOP, left: 0, right: 0, bottom: 0 } },
      plugins: { legend: { display: false }, tooltip: { enabled: false }, title: { display: false } },
      scales: {
        x: {
          type: "linear",
          position: "bottom",
          min: 0,
          max: 24,
          ticks: { display: false, stepSize: 2, autoSkip: false, maxRotation: 0 },
          grid: { drawOnChartArea: false, drawTicks: true, tickLength: 15, tickWidth: 3, tickColor: "#000", color: "#000", lineWidth: 3 },
          border: { display: false },
          afterFit: (s: any) => {
            s.height = CANVAS_H - PLOT_BOTTOM;
            s.paddingLeft = 0;
            s.paddingRight = 0;
          },
        },
        y: {
          type: "linear",
          position: "left",
          min: -1,
          max: 1,
          ticks: {
            display: p.side === "left",
            stepSize: 0.5,
            padding: 15,
            color: "#000",
            font: tickFont,
            callback: (v: any) => fmtErr(Number(v)),
          },
          grid: {
            drawOnChartArea: true,
            color: (c: any) => (c.tick && Math.abs(c.tick.value) > 0.99 ? "rgba(0,0,0,0)" : GRID),
            lineWidth: 2.5,
            drawTicks: true,
            tickLength: 15,
            tickWidth: 3,
            tickColor: "#000",
          },
          border: { display: false },
          afterFit: (s: any) => {
            s.width = p.axisLeft;
            s.paddingTop = 0;
            s.paddingBottom = 0;
          },
        },
        y2: {
          type: "linear",
          position: "right",
          min: 0,
          max: 4,
          ticks: {
            display: p.side === "right",
            stepSize: 1,
            padding: 15,
            color: "#000",
            font: tickFont,
            callback: (v: any) => String(Math.round(Number(v))),
          },
          grid: { drawOnChartArea: false, drawTicks: true, tickLength: 15, tickWidth: 3, tickColor: "#000", color: "#000" },
          border: { display: false },
          afterFit: (s: any) => {
            s.width = p.axisRight;
            s.paddingTop = 0;
            s.paddingBottom = 0;
          },
        },
      },
    },
    plugins: [makeTextPlugin(p)],
  };
}

function PanelChart({ p }: { p: PanelCfg }) {
  const ref = useRef<HTMLCanvasElement | null>(null);
  useEffect(() => {
    if (!ref.current) return;
    const chart = new Chart(ref.current, buildConfig(p));
    return () => chart.destroy();
  }, [p]);
  return (
    <canvas
      ref={ref}
      width={p.width}
      height={CANVAS_H}
      style={{ position: "absolute", left: p.left, top: p.top, width: p.width, height: CANVAS_H }}
    />
  );
}

// text box whose cap-height centre lands on cy
function Label({ x, cy, children, align = "left", style = {} }: any) {
  const base: any = {
    position: "absolute",
    top: cy - 20,
    fontFamily: FONT,
    fontSize: FS,
    lineHeight: "41px",
    height: 41,
    whiteSpace: "nowrap",
    color: "#000",
  };
  if (align === "left") base.left = x;
  else if (align === "right") base.right = 1594 - x;
  return <div style={{ ...base, ...style }}>{children}</div>;
}

function Legend() {
  const colors = [BLUE, GREEN, RED];
  const bar = (x: number, cy: number, color: string) => (
    <div style={{ position: "absolute", left: x, top: cy - 2.75, width: 90, height: 5.5, background: color }} />
  );
  return (
    <>
      <div
        style={{ position: "absolute", left: 214, top: 663, width: 507, height: 132, border: "3px solid #000", boxSizing: "border-box" }}
      />
      {bar(229, 695.5, colors[0])}
      <Label x={350} cy={697}>{legendLabels[0]}</Label>
      {bar(229, 755, colors[1])}
      <Label x={350} cy={754}>{legendLabels[1]}</Label>
      {bar(531, 695.5, colors[2])}
      <Label x={650} cy={697}>{legendLabels[2]}</Label>
      <div style={{ position: "absolute", left: 569, top: 751, width: 12, height: 12, borderRadius: 6, background: PURPLE }} />
      <div style={{ position: "absolute", left: 650, top: 754 - 24, height: 50, whiteSpace: "nowrap", lineHeight: "40px" }}>
        <span style={{ fontFamily: MATH_FONT, fontStyle: "italic", fontSize: 38 }}>S</span>
        <span style={{ fontFamily: MATH_FONT, fontSize: 26, position: "relative", top: 8 }}>4</span>
      </div>
    </>
  );
}

function RmsTable({ xs, ys, values }: { xs: number[]; ys: number[]; values: number[][] }) {
  const T = 3;
  const lines: any[] = [];
  ys.forEach((y, i) => {
    const x0 = i === 0 ? xs[1] : xs[0];
    lines.push(
      <div key={"h" + i} style={{ position: "absolute", left: x0 - T / 2, top: y - T / 2, width: xs[4] - x0 + T, height: T, background: "#000" }} />
    );
  });
  xs.forEach((x, j) => {
    const y0 = j === 0 ? ys[1] : ys[0];
    lines.push(
      <div key={"v" + j} style={{ position: "absolute", left: x - T / 2, top: y0 - T / 2, width: T, height: ys[4] - y0 + T, background: "#000" }} />
    );
  });
  const cells: any[] = [];
  tableColumns.forEach((c, j) => {
    cells.push(
      <Label key={"c" + j} x={xs[j + 1]} cy={(ys[0] + ys[1]) / 2} style={{ width: xs[j + 2] - xs[j + 1], textAlign: "center" }}>
        {c}
      </Label>
    );
  });
  tableRows.forEach((r, i) => {
    const cy = (ys[i + 1] + ys[i + 2]) / 2;
    cells.push(
      <Label key={"r" + i} x={xs[0] + 12} cy={cy}>
        {r}
      </Label>
    );
    values[i].forEach((v, j) => {
      cells.push(
        <Label key={"v" + i + "-" + j} x={xs[j + 1]} cy={cy} style={{ width: xs[j + 2] - xs[j + 1], textAlign: "center" }}>
          {v.toFixed(3)}
        </Label>
      );
    });
  });
  return (
    <>
      {cells}
      {lines}
    </>
  );
}

const tableBX = [783, 907, 1193, 1343, 1489];
const tableBY = [642, 687, 730, 775, 821];
const tableCX = [44, 167, 454, 580, 751];
const tableCY = [1510, 1557, 1601, 1645, 1690];
const tableDX = [783, 907, 1193, 1318, 1489];
const tableDY = [1510, 1557, 1601, 1645, 1690];

export default function App() {
  return (
    <div
      style={{
        position: "absolute",
        left: 0,
        top: 0,
        width: 1594,
        height: 1693,
        background: "#fff",
        overflow: "hidden",
        fontFamily: FONT,
      }}
    >
      {panels.map((p) => (
        <PanelChart key={p.key} p={p} />
      ))}
      <Legend />
      <RmsTable xs={tableBX} ys={tableBY} values={tableB} />
      <RmsTable xs={tableCX} ys={tableCY} values={tableC} />
      <RmsTable xs={tableDX} ys={tableDY} values={tableD} />
    </div>
  );
}
